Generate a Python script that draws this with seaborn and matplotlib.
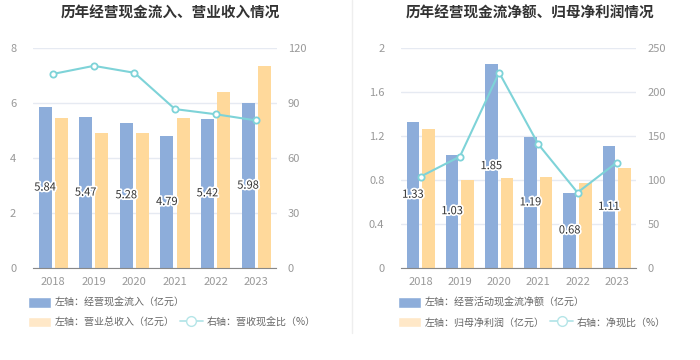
import numpy as np
import pandas as pd
import matplotlib
matplotlib.use("Agg")
import matplotlib.pyplot as plt
import matplotlib.patheffects
from matplotlib.lines import Line2D
from matplotlib.patches import Patch
import seaborn as sns

sns.set_style("white")
plt.rcParams['font.family'] = ['Noto Sans CJK SC', 'DejaVu Sans']

years = ['2018', '2019', '2020', '2021', '2022', '2023']

# left panel
cash_in = [5.84, 5.47, 5.28, 4.79, 5.42, 5.98]
revenue = [5.45, 4.90, 4.90, 5.45, 6.38, 7.35]
cash_ratio = [105.8, 110.2, 106.4, 86.6, 83.8, 80.4]

# right panel
net_cf = [1.33, 1.03, 1.85, 1.19, 0.68, 1.11]
net_profit = [1.26, 0.80, 0.82, 0.83, 0.77, 0.91]
net_ratio = [103.8, 126.5, 222.0, 140.5, 85.6, 119.7]

BLUE = '#8DADDA'
ORANGE = '#FFD99B'
ORANGE_LEG = '#FFE8C8'
TEAL = '#7ED3D8'
GRID = '#E6EAF2'
TICK = '#999999'


def fmt(v):
    return '{:g}'.format(round(v, 2))


def add_item(fig, handle, x, y):
    # one legend entry, left edge of the handle at pixel x, centre at pixel y
    fig.legend(handles=[handle], loc='center left',
               bbox_to_anchor=(x / 700, 1 - y / 360), frameon=False,
               fontsize=7.2, handlelength=2.3, handleheight=1.25,
               handletextpad=0.35, borderpad=0, borderaxespad=0,
               labelcolor='#666666')


def draw_panel(fig, rect, title, title_x, bar1, bar2, ratio, lab1, lab2, lab3,
               lticks, rticks, leg_x, line_x):
    ax = fig.add_axes(rect)
    df = pd.DataFrame({
        'year': years * 2,
        'value': bar1 + bar2,
        'series': ['a'] * len(years) + ['b'] * len(years),
    })
    sns.barplot(data=df, x='year', y='value', hue='series', ax=ax,
                palette=[BLUE, ORANGE], width=0.8, gap=0.2, legend=False,
                saturation=1, edgecolor='none')
    ax.set_xlim(-0.5, len(years) - 0.5)
    ax.set_ylim(lticks[0], lticks[-1])
    ax.set_yticks(lticks)
    ax.set_yticklabels([fmt(t) for t in lticks])
    ax.set_xlabel('')
    ax.set_ylabel('')
    ax.yaxis.grid(True, color=GRID, linewidth=1)
    ax.set_axisbelow(True)
    for s in ['top', 'right', 'left']:
        ax.spines[s].set_visible(False)
    ax.spines['bottom'].set_color('#888888')
    ax.tick_params(axis='y', length=0, colors=TICK, labelsize=8, pad=12)
    ax.tick_params(axis='x', length=3, color='#888888', colors=TICK,
                   labelsize=8)

    # labels in middle of blue bars
    for bar, v in zip(ax.containers[0], bar1):
        ax.text(bar.get_x() + bar.get_width() / 2, v / 2, '{:.2f}'.format(v),
                ha='center', va='center', fontsize=8, color='#333333',
                path_effects=[matplotlib.patheffects.withStroke(
                    linewidth=2.5, foreground='white')], zorder=5)

    ax2 = ax.twinx()
    sns.lineplot(x=np.arange(len(years)), y=ratio, ax=ax2, color=TEAL,
                 linewidth=1.5, marker='o', markersize=4.5,
                 markerfacecolor='white', markeredgecolor=TEAL,
                 markeredgewidth=1.3)
    ax2.set_ylim(rticks[0], rticks[-1])
    ax2.set_yticks(rticks)
    ax2.set_yticklabels([fmt(t) for t in rticks])
    for s in ['top', 'right', 'left', 'bottom']:
        ax2.spines[s].set_visible(False)
    ax2.tick_params(axis='y', length=0, colors=TICK, labelsize=8, pad=8)

    fig.text(title_x, 0.965, title, ha='center', va='center',
             fontsize=10.5, fontweight='bold', color='#333333')

    add_item(fig, Patch(facecolor=BLUE, label=lab1), leg_x, 302.5)
    add_item(fig, Patch(facecolor=ORANGE_LEG, label=lab2), leg_x, 322)
    add_item(fig, Line2D([0], [0], color='#B5E5E8', linewidth=1.3,
                         marker='o', markersize=7, markerfacecolor='white',
                         markeredgecolor='#B5E5E8', label=lab3), line_x, 322)
    return ax


fig = plt.figure(figsize=(7, 3.6), dpi=100)

draw_panel(fig, [0.047, 0.256, 0.348, 0.611],
           '历年经营现金流入、营业收入情况', 0.243,
           cash_in, revenue, cash_ratio,
           '左轴：经营现金流入（亿元）', '左轴：营业总收入（亿元）',
           '右轴：营收现金比（%）',
           [0, 2, 4, 6, 8], [0, 30, 60, 90, 120], 28, 180)

draw_panel(fig, [0.573, 0.256, 0.336, 0.611],
           '历年经营现金流净额、归母净利润情况', 0.757,
           net_cf, net_profit, net_ratio,
           '左轴：经营活动现金流净额（亿元）', '左轴：归母净利润（亿元）',
           '右轴：净现比（%）',
           [0, 0.4, 0.8, 1.2, 1.6, 2], [0, 50, 100, 150, 200, 250], 398, 550)

fig.add_artist(Line2D([0.503, 0.503], [0.075, 1.0], color='#EEEEEE',
                      linewidth=1, transform=fig.transFigure))

fig.savefig('out.png', dpi=100, facecolor='white')
